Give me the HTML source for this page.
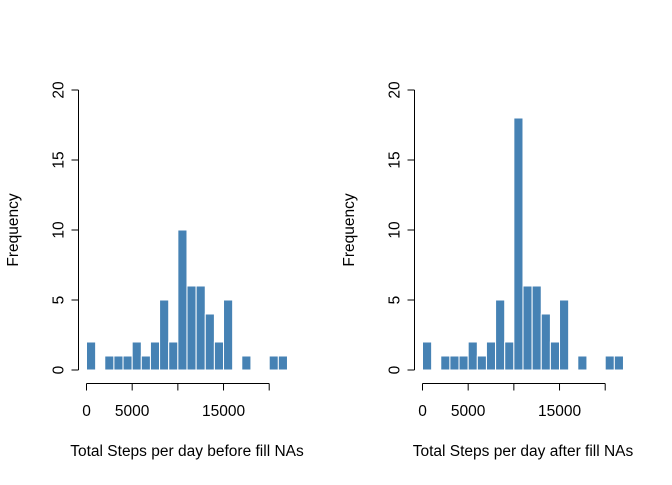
<!DOCTYPE html>
<html><head><meta charset="utf-8"><style>body{margin:0;background:#fff}svg text{font-family:"Liberation Sans",Arial,sans-serif;font-size:15.5px;fill:#000}</style></head>
<body>
<svg id="c" width="672" height="480"></svg>
<script>
const binStarts=[0,1000,2000,3000,4000,5000,6000,7000,8000,9000,10000,11000,12000,13000,14000,15000,16000,17000,18000,19000,20000,21000];
const countsBefore=[2,0,1,1,1,2,1,2,5,2,10,6,6,4,2,5,0,1,0,0,1,1];
const countsAfter=[2,0,1,1,1,2,1,2,5,2,18,6,6,4,2,5,0,1,0,0,1,1];
const yTicks=[0,5,10,15,20];
const xTicks=[0,5000,10000,15000,20000];
const xTickLabels=["0","5000","","15000",""];
const titles=["Total Steps per day before fill NAs","Total Steps per day after fill NAs"];
const svg=document.getElementById('c');const NS='http://www.w3.org/2000/svg';
function mk(t,a,p){const e=document.createElementNS(NS,t);for(const k in a)e.setAttribute(k,a[k]);p.appendChild(e);return e;}
function panel(off,counts,title,idx){
  const g=mk('g',{},svg);
  
  
  const x=v=>off+86.5+v*0.009135, y=v=>370-v*14;
  binStarts.forEach((b,i)=>{if(counts[i]>0){const r=mk('rect',{x:x(b),y:y(counts[i]),width:x(b+1000)-x(b),height:y(0)-y(counts[i]),fill:'#4682B4',stroke:'#fff','stroke-width':1},g);
    
    }});
  const ax=off+78.5;
  mk('line',{x1:ax,y1:y(20),x2:ax,y2:y(0),stroke:'#000'},g);
  yTicks.forEach(t=>{mk('line',{x1:ax-7,y1:y(t),x2:ax,y2:y(t),stroke:'#000'},g);
    const tx=mk('text',{x:ax-15,y:y(t),'text-anchor':'middle',transform:`rotate(-90 ${ax-15} ${y(t)})`},g);tx.textContent=t;
    
    });
  const ay=383.5;
  mk('line',{x1:x(0),y1:ay,x2:x(20000),y2:ay,stroke:'#000'},g);
  xTicks.forEach((t,i)=>{mk('line',{x1:x(t),y1:ay,x2:x(t),y2:ay+7,stroke:'#000'},g);
    const tx=mk('text',{x:x(t),y:416,'text-anchor':'middle'},g);tx.textContent=xTickLabels[i];
    
    });
  const xt=mk('text',{x:off+187,y:456,'text-anchor':'middle'},g);xt.textContent=title;
  
  
  const yt=mk('text',{x:off+18,y:230,'text-anchor':'middle',transform:`rotate(-90 ${off+18} 230)`},g);yt.textContent='Frequency';
  
  
}
panel(0,countsBefore,titles[0],0);
panel(336,countsAfter,titles[1],1);
</script>
</body></html>
